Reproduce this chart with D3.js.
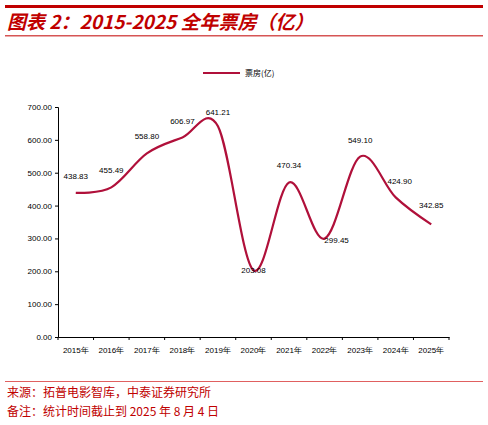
<!DOCTYPE html><html><head><meta charset="utf-8"><script src="https://cdn.jsdelivr.net/npm/d3@7"></script>
<style>body{margin:0;background:#fff}</style></head><body><svg id="c" width="488" height="425"></svg><script>
const categories=["2015年","2016年","2017年","2018年","2019年","2020年","2021年","2022年","2023年","2024年","2025年"];
const values=[438.83,455.49,558.80,606.97,641.21,203.08,470.34,299.45,549.10,424.90,342.85];
const yTicks=[0,100,200,300,400,500,600,700];
const svg=d3.select("#c");
const red="#c00000";
svg.append("rect").attr("x",5).attr("y",5).attr("width",478).attr("height",3).attr("fill",red);
svg.append("text").attr("x",7).attr("y",29).attr("fill",red).attr("font-size",19).attr("font-weight","bold").attr("font-style","italic").attr("font-family","Noto Sans CJK SC").text("图表 2：2015-2025 全年票房（亿）");
svg.append("rect").attr("x",5).attr("y",35).attr("width",478).attr("height",1.5).attr("fill","#d65555");
const x=d3.scaleBand().domain(categories).range([58,449]);
const y=d3.scaleLinear().domain([0,700]).range([337,107]);
const g=svg.append("g").attr("font-family","Liberation Sans").attr("font-size",8);
const ya=g.append("g").attr("transform","translate(58,0)").call(d3.axisLeft(y).tickValues(yTicks).tickFormat(d3.format(".2f")).tickSize(3));
const xa=g.append("g").attr("transform","translate(0,337)").call(d3.axisBottom(x).tickSize(0).tickPadding(10));
xa.selectAll(".tick").append("line").attr("x1",-x.bandwidth()/2).attr("x2",-x.bandwidth()/2).attr("y2",3).attr("stroke","#000");
xa.append("line").attr("x1",449).attr("x2",449).attr("y2",3).attr("stroke","#000");
[ya,xa].forEach(a=>{a.selectAll("text").attr("fill","#000").attr("font-size",8);a.select(".domain").attr("stroke","#000");});
const line=d3.line().x((d,i)=>x(categories[i])+x.bandwidth()/2).y(d=>y(d)).curve(d3.curveCardinal.tension(0));
svg.append("path").attr("d",line(values)).attr("fill","none").attr("stroke","#b0103a").attr("stroke-width",2.2);
const off=[[0,-14],[0,-14],[0,-14],[0,-14],[0,-11],[0,3],[0,-14],[12,4],[0,-14],[4,-13],[0,-16]];
svg.append("g").selectAll("text").data(values).join("text")
 .attr("x",(d,i)=>x(categories[i])+x.bandwidth()/2+off[i][0]).attr("y",(d,i)=>y(d)+off[i][1])
 .attr("text-anchor","middle").attr("font-size",8).attr("font-family","Liberation Sans").text(d=>d.toFixed(2));
svg.append("line").attr("x1",203).attr("x2",240).attr("y1",73).attr("y2",73).attr("stroke","#b0103a").attr("stroke-width",2);
svg.append("text").attr("x",245).attr("y",76).attr("font-size",8).attr("font-family","Noto Sans CJK SC").text("票房(亿)");
svg.append("rect").attr("x",5).attr("y",381).attr("width",478).attr("height",1).attr("fill","#e06060");
svg.append("text").attr("x",7).attr("y",397).attr("fill",red).attr("font-size",12).attr("font-family","Noto Sans CJK SC").text("来源：拓普电影智库，中泰证券研究所");
svg.append("text").attr("x",7).attr("y",416).attr("fill",red).attr("font-size",12).attr("font-family","Noto Sans CJK SC").text("备注：统计时间截止到 2025 年 8 月 4 日");
</script></body></html>
